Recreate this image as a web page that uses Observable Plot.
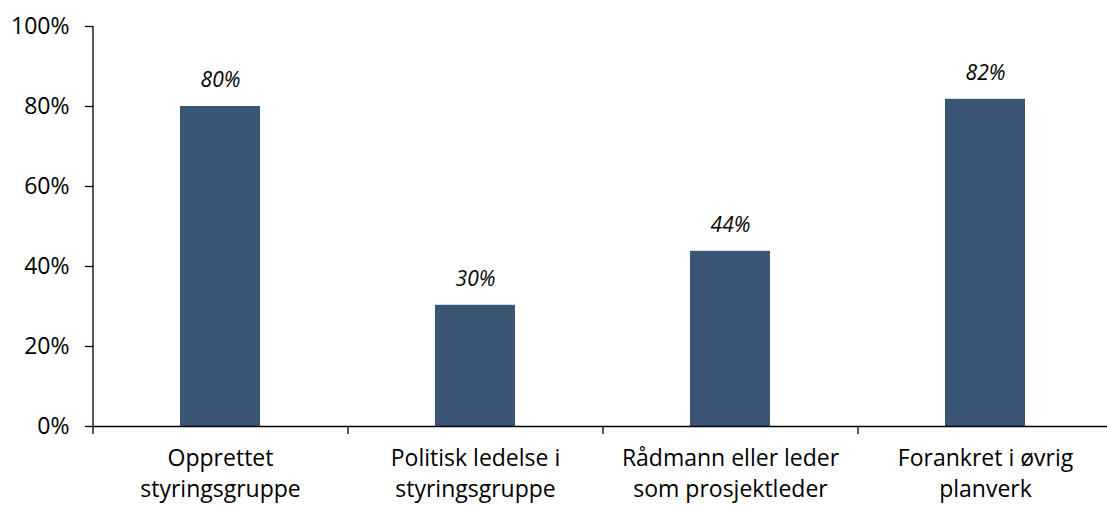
<!DOCTYPE html>
<html><head><meta charset="utf-8">
<script src="https://cdn.jsdelivr.net/npm/d3@7"></script>
<script src="https://cdn.jsdelivr.net/npm/@observablehq/plot@0.6"></script>
<style>body{margin:0;background:#fff;} svg{display:block;}</style>
</head><body><div id="chart"></div>
<script>
const categories = ["Opprettet styringsgruppe", "Politisk ledelse i styringsgruppe", "Rådmann eller leder som prosjektleder", "Forankret i øvrig planverk"];
const tickLabels = ["Opprettet\nstyringsgruppe", "Politisk ledelse i\nstyringsgruppe", "Rådmann eller leder\nsom prosjektleder", "Forankret i øvrig\nplanverk"];
const values = [80, 30.3, 43.8, 81.8];
const valueLabels = ["80%", "30%", "44%", "82%"];
const yTicks = [0, 20, 40, 60, 80, 100];

const data = categories.map((c, i) => ({cat: c, value: values[i], label: valueLabels[i]}));
const font = "'Open Sans', sans-serif";
const step = 255;

const chart = Plot.plot({
  width: 1107,
  height: 506,
  marginLeft: 93,
  marginRight: -6,
  marginTop: 26,
  marginBottom: 80,
  style: {fontFamily: font, fontSize: "23px", color: "#000", background: "#fff", overflow: "hidden"},
  x: {domain: categories, paddingInner: 0.686, paddingOuter: 0.343, axis: null, label: null},
  y: {domain: [0, 100], axis: null, label: null},
  marks: [
    Plot.barY(data, {x: "cat", y: "value", fill: "#3B5675"}),
    Plot.text(data, {x: "cat", y: "value", text: "label", dy: -26, fontStyle: "italic", fontSize: 21, fill: "#000"}),
    Plot.ruleY([0], {stroke: "#000", strokeWidth: 1.3}),
    Plot.ruleX(categories, {x: d => d, dx: -step / 2, y1: 0, y2: 0, insetBottom: -8, stroke: "#000", strokeWidth: 1.3}),
    Plot.axisY({ticks: yTicks, tickFormat: d => d + "%", tickSize: 8, tickPadding: 16, fontSize: 23, stroke: "#000", strokeWidth: 1.3, label: null}),
    Plot.ruleX([0], {x: () => categories[0], dx: -step / 2, y1: 0, y2: 100, stroke: "#000", strokeWidth: 1.3}),
    Plot.axisX({tickSize: 0, tickPadding: 18, tickFormat: d => tickLabels[categories.indexOf(d)], lineHeight: 1.33, fontSize: 23, label: null})
  ]
});
document.getElementById("chart").appendChild(chart);
</script></body></html>
